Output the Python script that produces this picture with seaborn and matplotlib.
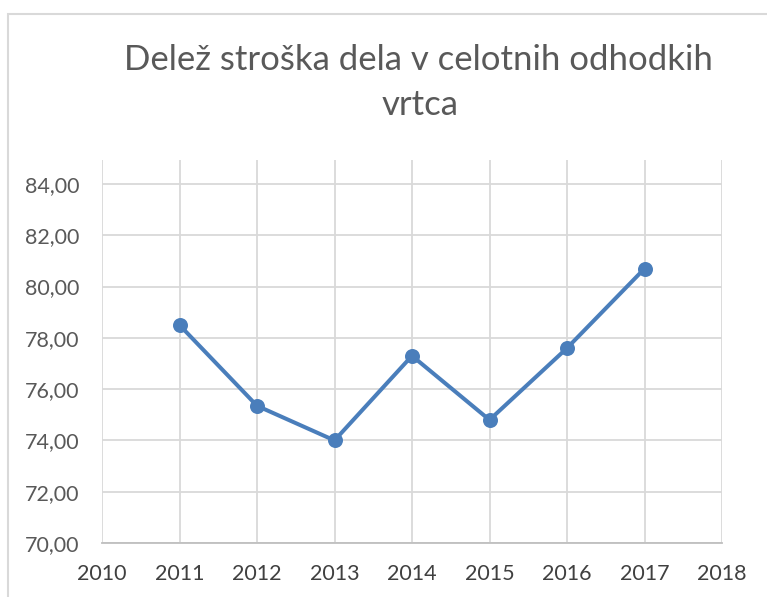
import matplotlib
matplotlib.use("Agg")
import matplotlib.pyplot as plt
import seaborn as sns
import pandas as pd
from matplotlib.patches import Rectangle

years = [2011, 2012, 2013, 2014, 2015, 2016, 2017]
shares = [78.5, 75.35, 74.0, 77.3, 74.8, 77.6, 80.7]
y_ticks = [70, 72, 74, 76, 78, 80, 82, 84]
x_ticks = [2010, 2011, 2012, 2013, 2014, 2015, 2016, 2017, 2018]
title_lines = ["Delež stroška dela v celotnih odhodkih", "vrtca"]

sns.set_theme(style="white")
plt.rcParams['font.family'] = ['Lato', 'DejaVu Sans']

df = pd.DataFrame({"leto": years, "delez": shares})

fig = plt.figure(figsize=(7.67, 5.97), dpi=100)
ax = fig.add_axes([102/767, 1-543/597, (722-102)/767, (543-160)/597])

grid_c = "#d9d9d9"
text_c = "#595959"

sns.lineplot(data=df, x="leto", y="delez", ax=ax, color="#4a7ebb",
             marker="o", markersize=10.8, linewidth=2.9, markeredgewidth=0,
             zorder=3)

ax.set_xlim(2010, 2018)
ax.set_ylim(70, 84 + 24/25.64)
ax.set_yticks(y_ticks)
ax.set_yticklabels([f"{v:.2f}".replace(".", ",") for v in y_ticks])
ax.set_xticks(x_ticks)
ax.set_xticklabels([str(v) for v in x_ticks])
ax.set_xlabel("")
ax.set_ylabel("")

ax.grid(False)
for v in y_ticks:
    ax.axhline(v, color=grid_c, linewidth=1.3, zorder=1)
for v in x_ticks:
    ax.axvline(v, color=grid_c, linewidth=1.3, zorder=1)

for s in ["top", "right", "left"]:
    ax.spines[s].set_visible(False)
ax.spines["bottom"].set_color("#bfbfbf")
ax.spines["bottom"].set_linewidth(1.3)

ax.tick_params(axis="both", length=0, labelsize=15.5)
ax.tick_params(axis="y", pad=16, colors=text_c)
ax.tick_params(axis="x", pad=15, colors="#404040")

fig.text(418/767, 1-70/597, title_lines[0], ha="center", va="baseline",
         fontsize=25, color=text_c)
fig.text(420/767, 1-115/597, title_lines[1], ha="center", va="baseline",
         fontsize=25, color=text_c)

fig.patches.append(Rectangle((8/767, -0.1), 1.2, 1 - 14/597 + 0.1,
                             transform=fig.transFigure, fill=False,
                             edgecolor=grid_c, linewidth=1.5, zorder=0))

fig.savefig("out.png", dpi=100)
